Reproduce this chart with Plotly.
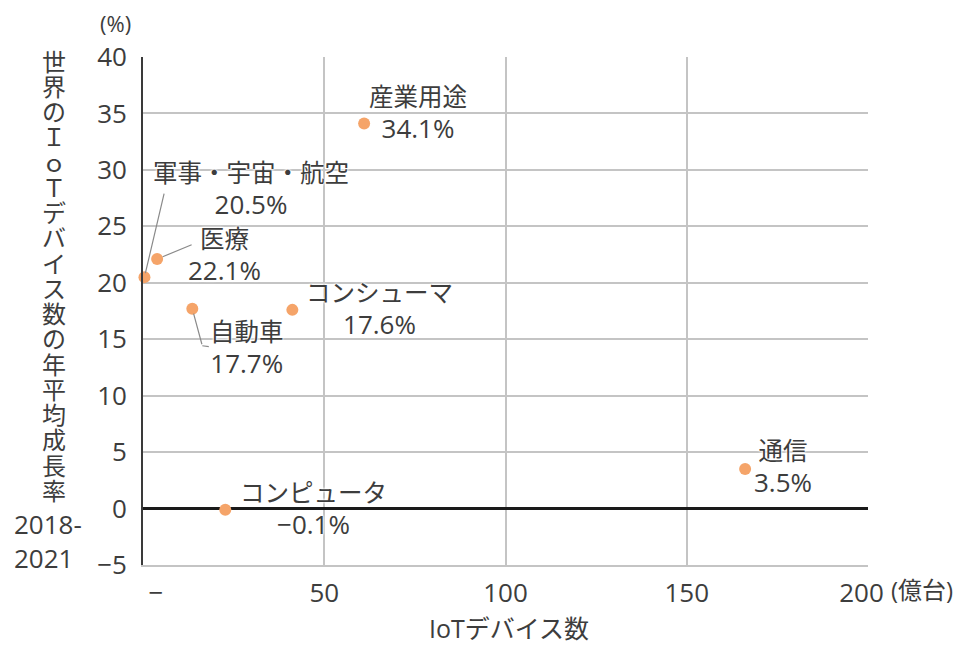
import plotly.graph_objects as go

# IoT device count (100 million units) vs. CAGR 2018-2021 by application
categories = ["産業用途", "軍事・宇宙・航空", "医療", "自動車", "コンシューマ", "コンピュータ", "通信"]
devices = [61.0, 0.4, 3.9, 13.6, 41.2, 22.7, 166.1]
growth = [34.1, 20.5, 22.1, 17.7, 17.6, -0.1, 3.5]

x_tickvals = [0, 50, 100, 150, 200]
x_ticktext = ["\u2002\u2002\u2212", "50", "100", "150", "200\u2002"]
y_tickvals = [-5, 0, 5, 10, 15, 20, 25, 30, 35, 40]

y_title_chars = list("世界のＩｏＴデバイス数の年平均成長率")

# label placement: pixel offset of the label block centre from its point
label_offsets = {
    "産業用途": (54, -11),
    "軍事・宇宙・航空": (107, -88),
    "医療": (67, -4),
    "自動車": (55, 39),
    "コンシューマ": (87, -1),
    "コンピュータ": (88, -1),
    "通信": (38, -2),
}
# leader lines: (category, tail dx, tail dy, shift x, shift y, standoff)
leaders = [
    ("軍事・宇宙・航空", 20, -85, 0, 0, 4),
    ("医療", 36, -15, 0, 0, 6),
    ("自動車", 10, 37, 0, 0, 5),
    ("自動車", 8, 1, 10, 37, 0),
]

FONT = "Open Sans, Noto Sans CJK JP, sans-serif"
TEXT = "#3d3d3d"
ORANGE = "#f5a469"
GRID = "#c4c4c4"

fig = go.Figure()
fig.add_trace(go.Scatter(
    x=devices, y=growth, mode="markers",
    marker=dict(size=12, color=ORANGE, line=dict(width=0)),
    cliponaxis=False, hoverinfo="skip", showlegend=False,
))

annotations = []
halo = "0 0 3px white, 0 0 3px white, 0 0 2px white"
for name, xv, yv in zip(categories, devices, growth):
    dx, dy = label_offsets[name]
    val = f"{yv:.1f}%".replace("-", "\u2212")
    annotations.append(dict(
        x=xv, y=yv, xref="x", yref="y",
        text=f"{name}<br><span style='font-size:26px'>{val}</span>",
        showarrow=False, xanchor="center", yanchor="middle", align="center",
        xshift=dx, yshift=-dy,
        font=dict(family=FONT, size=24.5, color=TEXT, shadow=halo),
    ))

idx = {n: i for i, n in enumerate(categories)}
for name, tx, ty, sx, sy, so in leaders:
    i = idx[name]
    annotations.append(dict(
        x=devices[i], y=growth[i], xref="x", yref="y", text="",
        showarrow=True, arrowhead=0, arrowwidth=1.2, arrowcolor="#8a8a8a",
        ax=tx, ay=ty, standoff=so, xshift=sx, yshift=-sy,
        font=dict(size=1),
    ))

# vertical y-axis title, one upright character per line
for k, ch in enumerate(y_title_chars):
    annotations.append(dict(
        x=0, y=1, xref="paper", yref="paper", text=ch, showarrow=False,
        xanchor="center", yanchor="middle", xshift=-89, yshift=-(4 + 25.25 * k),
        font=dict(family=FONT, size=24, color=TEXT),
    ))

annotations += [
    dict(x=0, y=0, xref="paper", yref="paper", text="2018-<br>2021",
         showarrow=False, xanchor="left", yanchor="middle", align="left",
         xshift=-131, yshift=24, font=dict(family=FONT, size=26, color=TEXT)),
    dict(x=0, y=1, xref="paper", yref="paper", text="(%)", showarrow=False,
         xanchor="center", yanchor="middle", xshift=-28, yshift=34,
         font=dict(family=FONT, size=22, color=TEXT)),
    dict(x=1, y=0, xref="paper", yref="paper", text="(億台)", showarrow=False,
         xanchor="left", yanchor="middle", xshift=21, yshift=-24,
         font=dict(family=FONT, size=24, color=TEXT)),
    dict(x=0.5, y=0, xref="paper", yref="paper", text="IoTデバイス数",
         showarrow=False, xanchor="center", yanchor="middle", xshift=3, yshift=-63,
         font=dict(family=FONT, size=25, color=TEXT)),
]

fig.update_layout(
    width=968, height=646,
    margin=dict(l=143, r=100, t=57, b=81, pad=0),
    paper_bgcolor="white", plot_bgcolor="white",
    font=dict(family=FONT, size=26, color=TEXT),
    annotations=annotations,
    xaxis=dict(
        range=[0, 200], tickmode="array", tickvals=x_tickvals, ticktext=x_ticktext,
        showgrid=True, gridcolor=GRID, gridwidth=2,
        showline=True, linecolor=GRID, linewidth=2,
        zeroline=False, ticks="", ticklabelstandoff=4,
        tickfont=dict(family=FONT, size=26, color=TEXT),
    ),
    yaxis=dict(
        range=[-5, 40], tickmode="array", tickvals=y_tickvals,
        showgrid=True, gridcolor=GRID, gridwidth=2,
        showline=True, linecolor="#3a3a3a", linewidth=1.8,
        zeroline=True, zerolinecolor="#1a1a1a", zerolinewidth=2.6,
        ticks="", ticklabelstandoff=9,
        tickfont=dict(family=FONT, size=26, color=TEXT),
    ),
)

fig.write_html("out.html")
